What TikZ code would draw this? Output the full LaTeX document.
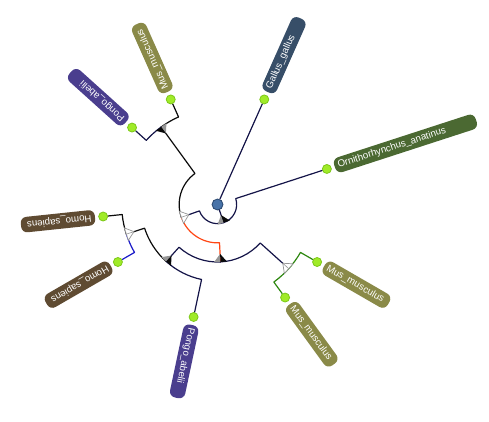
\documentclass[tikz,border=0pt]{standalone}
\usepackage{fontspec}
\setmainfont{Liberation Sans}
\usetikzlibrary{backgrounds}
\definecolor{brNavy}{RGB}{20,20,72}
\definecolor{brBlack}{RGB}{10,10,10}
\definecolor{brOrange}{RGB}{255,70,20}
\definecolor{brBlue}{RGB}{25,25,200}
\definecolor{brGreen}{RGB}{45,135,15}
\definecolor{dotFill}{RGB}{160,235,40}
\definecolor{dotDraw}{RGB}{125,200,25}
\definecolor{rootFill}{RGB}{72,115,168}
\definecolor{rootDraw}{RGB}{40,70,110}
\definecolor{mkGray}{RGB}{150,150,150}
\definecolor{cGallus}{RGB}{55,78,104}
\definecolor{cOrni}{RGB}{75,105,50}
\definecolor{cMus}{RGB}{138,138,72}
\definecolor{cPongo}{RGB}{74,62,142}
\definecolor{cHomo}{RGB}{95,75,50}
\newcommand\markfilled[2]{%
  \begin{scope}[shift={(#1:#2pt)},rotate=#1]
    \fill[mkGray] (-8,0) -- (0,0) -- (0,-6.5) -- cycle;
    \fill[brBlack] (-8,0) -- (0,6.5) -- (0,0) -- cycle;
  \end{scope}}
\newcommand\markhollow[2]{%
  \begin{scope}[shift={(#1:#2pt)},rotate=#1]
    \filldraw[fill=white,draw=mkGray,line width=0.7pt] (-8,0) -- (0,6.5) -- (0,-6.5) -- cycle;
    \draw[mkGray,line width=0.6pt] (-8,0) -- (0,0);
  \end{scope}}
\begin{document}
\begin{tikzpicture}[x=1pt,y=1pt,
  br/.style={line width=1.2pt,line cap=round,line join=round},
  leafdot/.style={circle,fill=dotFill,draw=dotDraw,line width=0.8pt,minimum size=9pt,inner sep=0pt},
  rootdot/.style={circle,fill=rootFill,draw=rootDraw,line width=0.8pt,minimum size=11pt,inner sep=0pt},
  lab/.style={rounded corners=6pt,inner xsep=3.5pt,inner ysep=0pt,minimum height=15.5pt,
    text=white,font=\fontsize{9.7}{11}\selectfont,anchor=west,align=left}]
\useasboundingbox (0,-422) rectangle (489,0);
\begin{scope}[shift={(217.5,-204.5)}]
  % internal node positions
  \coordinate (X) at (288.75:19.17pt);
  \coordinate (Y) at (199.5:38.33pt);
  \coordinate (Z) at (273:57.5pt);
  \coordinate (U) at (228:76.67pt);
  \coordinate (W) at (126:95.83pt);
  \coordinate (T) at (198:95.83pt);
  \coordinate (V) at (318:95.83pt);
  % markers
  \markfilled{288.75}{19.17}
  \markhollow{199.5}{38.33}
  \markfilled{273}{57.5}
  \markfilled{228}{76.67}
  \markfilled{126}{95.83}
  \markhollow{198}{95.83}
  \markhollow{318}{95.83}
  % dots
  \node[rootdot] (root) at (0,0) {};
  \node[leafdot] (gallus) at (66:115pt) {};
  \node[leafdot] (orni) at (18:115pt) {};
  \node[leafdot] (mus1) at (114:115pt) {};
  \node[leafdot] (pongo1) at (138:115pt) {};
  \node[leafdot] (homo1) at (186:115pt) {};
  \node[leafdot] (homo2) at (210:115pt) {};
  \node[leafdot] (pongo2) at (258:115pt) {};
  \node[leafdot] (mus2) at (306:115pt) {};
  \node[leafdot] (mus3) at (330:115pt) {};
  % labels
  \node[lab,fill=cGallus,rotate=66,text width=73.6pt] (lgallus) at (66:123pt) {Gallus\_gallus};
  \node[lab,fill=cOrni,rotate=18,text width=141.8pt] (lorni) at (18:123pt) {Ornithorhynchus\_anatinus};
  \node[lab,fill=cMus,rotate=114,text width=67.4pt] (lmus1) at (114:123pt) {Mus\_musculus};
  \node[lab,fill=cPongo,rotate=138,text width=67.4pt] (lpongo1) at (138:123pt) {Pongo\_abelii};
  \node[lab,fill=cHomo,rotate=186,text width=67.4pt] (lhomo1) at (186:123pt) {Homo\_sapiens};
  \node[lab,fill=cHomo,rotate=210,text width=67.4pt] (lhomo2) at (210:123pt) {Homo\_sapiens};
  \node[lab,fill=cPongo,rotate=258,text width=67.4pt] (lpongo2) at (258:123pt) {Pongo\_abelii};
  \node[lab,fill=cMus,rotate=306,text width=67.4pt] (lmus2) at (306:123pt) {Mus\_musculus};
  \node[lab,fill=cMus,rotate=330,text width=67.4pt] (lmus3) at (330:123pt) {Mus\_musculus};
  % branches
  \begin{pgfonlayer}{background}
    \draw[br,brNavy] (root) -- (gallus);
    \draw[br,brNavy] (0,0) -- (X);
    \draw[br,brNavy] (X) arc[start angle=288.75,end angle=199.5,radius=19.17pt] -- (Y);
    \draw[br,brNavy] (X) arc[start angle=288.75,end angle=378,radius=19.17pt] -- (orni);
    \draw[br,brBlack] (Y) arc[start angle=199.5,end angle=126,radius=38.33pt] -- (W);
    \draw[br,brOrange] (Y) arc[start angle=199.5,end angle=273,radius=38.33pt] -- (Z);
    \draw[br,brBlack] (W) arc[start angle=126,end angle=114,radius=95.83pt] -- (mus1);
    \draw[br,brNavy] (W) arc[start angle=126,end angle=138,radius=95.83pt] -- (pongo1);
    \draw[br,brNavy] (Z) arc[start angle=273,end angle=228,radius=57.5pt] -- (U);
    \draw[br,brNavy] (Z) arc[start angle=273,end angle=318,radius=57.5pt] -- (V);
    \draw[br,brBlack] (U) arc[start angle=228,end angle=198,radius=76.67pt] -- (T);
    \draw[br,brNavy] (U) arc[start angle=228,end angle=258,radius=76.67pt] -- (pongo2);
    \draw[br,brBlack] (T) arc[start angle=198,end angle=186,radius=95.83pt] -- (homo1);
    \draw[br,brBlue] (T) arc[start angle=198,end angle=210,radius=95.83pt] -- (homo2);
    \draw[br,brGreen] (V) arc[start angle=318,end angle=306,radius=95.83pt] -- (mus2);
    \draw[br,brGreen] (V) arc[start angle=318,end angle=330,radius=95.83pt] -- (mus3);
  \end{pgfonlayer}
\end{scope}
\end{tikzpicture}
\end{document}
